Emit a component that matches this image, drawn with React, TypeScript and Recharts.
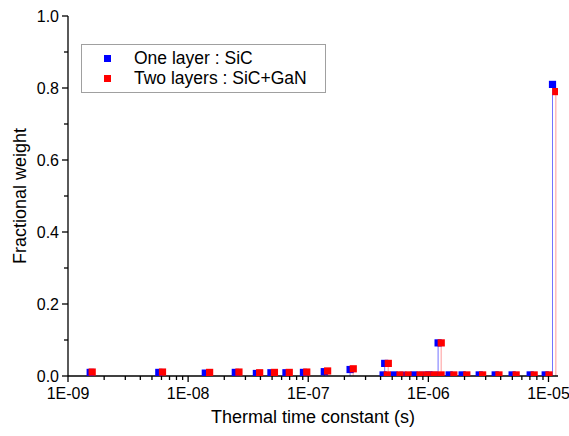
import { ScatterChart, Scatter, XAxis, YAxis, ErrorBar, Legend, Label } from "recharts"

// thermal time constants (s) and fractional weights
const oneLayerTau = [
  1.53e-9, 5.7e-9, 1.39e-8, 2.47e-8, 3.7e-8, 4.89e-8, 6.52e-8, 9.12e-8, 1.36e-7, 2.23e-7,
  4.2e-7, 4.33e-7, 5.18e-7, 6.15e-7, 7.6e-7, 8.86e-7, 1.01e-6, 1.12e-6, 1.205e-6, 1.49e-6,
  1.91e-6, 2.65e-6, 3.6e-6, 4.98e-6, 7.04e-6, 9.39e-6, 1.08e-5,
]
const oneLayerWeight = [
  0.01, 0.01, 0.008, 0.01, 0.007, 0.009, 0.009, 0.01, 0.012, 0.018,
  0.003, 0.035, 0.003, 0.002, 0.003, 0.002, 0.003, 0.002, 0.092, 0.003,
  0.003, 0.003, 0.003, 0.003, 0.003, 0.003, 0.81,
]
const twoLayerTau = [
  1.59e-9, 6.12e-9, 1.51e-8, 2.65e-8, 3.94e-8, 5.23e-8, 6.95e-8, 9.72e-8, 1.45e-7, 2.37e-7,
  4.55e-7, 4.64e-7, 5.81e-7, 6.77e-7, 8.53e-7, 9.75e-7, 1.117e-6, 1.276e-6, 1.28e-6, 1.63e-6,
  2.09e-6, 2.83e-6, 3.87e-6, 5.38e-6, 7.6e-6, 1.01e-5, 1.15e-5,
]
const twoLayerWeight = [
  0.011, 0.011, 0.01, 0.011, 0.009, 0.01, 0.01, 0.011, 0.014, 0.02,
  0.003, 0.035, 0.003, 0.003, 0.003, 0.003, 0.003, 0.003, 0.092, 0.003,
  0.003, 0.003, 0.003, 0.003, 0.003, 0.003, 0.79,
]

const xMajorTicks = [1e-9, 1e-8, 1e-7, 1e-6, 1e-5]
const xMinorMantissas = [2, 3, 4, 5, 6, 7, 8, 9]
const yTicks = [0, 0.1, 0.2, 0.3, 0.4, 0.5, 0.6, 0.7, 0.8, 0.9, 1.0]
const xDomain = [1e-9, 1.2e-5]

const font = "'Liberation Sans', Arial, sans-serif"

const build = (tau: number[], w: number[]) =>
  tau.map((t, i) => ({ tau: t, weight: w[i], drop: [w[i], 0] }))

const oneLayer = build(oneLayerTau, oneLayerWeight)
const twoLayer = build(twoLayerTau, twoLayerWeight)

const xTicks = [
  ...xMajorTicks,
  ...xMajorTicks.flatMap((m) => xMinorMantissas.map((k) => k * m)).filter((v) => v <= xDomain[1]),
].sort((a, b) => a - b)

const isMajor = (v: number) => xMajorTicks.some((m) => Math.abs(v / m - 1) < 1e-6)

const fmtExp = (v: number) => {
  const e = Math.round(Math.log10(v))
  return `1E-${String(-e).padStart(2, "0")}`
}

const XTick = (props: any) => {
  const { x, y, payload } = props
  const major = isMajor(payload.value)
  return (
    <g>
      <line x1={x} x2={x} y1={y} y2={y + (major ? 6 : 4)} stroke="#000" strokeWidth={1.3} />
      {major && (
        <text x={x} y={y + 23} textAnchor="middle" fontSize={16} fontFamily={font} fill="#000">
          {fmtExp(payload.value)}
        </text>
      )}
    </g>
  )
}

const YTick = (props: any) => {
  const { x, y, payload } = props
  const major = Math.round(payload.value * 10) % 2 === 0
  return (
    <g>
      <line x1={x} x2={x - (major ? 6 : 4)} y1={y} y2={y} stroke="#000" strokeWidth={1.3} />
      {major && (
        <text x={x - 9} y={y} dy="0.36em" textAnchor="end" fontSize={16} fontFamily={font} fill="#000">
          {payload.value.toFixed(1)}
        </text>
      )}
    </g>
  )
}

const square = (color: string) => (p: any) =>
  <rect x={p.cx - 3.6} y={p.cy - 3.6} width={7.2} height={7.2} fill={color} />

const renderLegend = (props: any) => (
  <div
    style={{
      border: "1px solid #a0a0a0",
      background: "#fff",
      padding: "3px 0 4px 0",
      fontFamily: font,
      fontSize: 17.5,
      color: "#000",
    }}
  >
    {(props.payload || []).map((e: any) => (
      <div key={e.value} style={{ display: "flex", alignItems: "center", height: 20 }}>
        <span style={{ width: 7, height: 7, background: e.color, marginLeft: 22, marginRight: 23 }} />
        <span>{e.value}</span>
      </div>
    ))}
  </div>
)

export default function App() {
  return (
    <div style={{ width: 569, height: 436, background: "#fff" }}>
      <style>{"body{margin:0}"}</style>
      <ScatterChart width={569} height={436} margin={{ top: 16, right: 11, bottom: 0, left: 8 }}>
        <XAxis
          dataKey="tau"
          type="number"
          scale="log"
          domain={xDomain}
          allowDataOverflow
          ticks={xTicks}
          interval={0}
          tick={<XTick />}
          tickLine={false}
          tickSize={0}
          tickMargin={0}
          height={60}
          axisLine={{ stroke: "#000", strokeWidth: 1.3 }}
        >
          <Label
            content={(p: any) => (
              <text
                x={p.viewBox.x + p.viewBox.width / 2}
                y={p.viewBox.y + 47}
                textAnchor="middle"
                fontSize={18}
                fontFamily={font}
                fill="#000"
              >
                Thermal time constant (s)
              </text>
            )}
          />
        </XAxis>
        <YAxis
          dataKey="weight"
          type="number"
          domain={[0, 1]}
          allowDataOverflow
          ticks={yTicks}
          interval={0}
          tick={<YTick />}
          tickLine={false}
          tickSize={0}
          tickMargin={0}
          width={60}
          axisLine={{ stroke: "#000", strokeWidth: 1.3 }}
        >
          <Label
            content={(p: any) => {
              const cx = p.viewBox.x + 12
              const cy = p.viewBox.y + p.viewBox.height / 2
              return (
                <text
                  x={cx}
                  y={cy}
                  transform={`rotate(-90 ${cx} ${cy})`}
                  textAnchor="middle"
                  dominantBaseline="central"
                  fontSize={18}
                  fontFamily={font}
                  fill="#000"
                >
                  Fractional weight
                </text>
              )
            }}
          />
        </YAxis>
        <Legend
          content={renderLegend}
          layout="vertical"
          verticalAlign="middle"
          align="center"
          wrapperStyle={{ left: 81, top: 44, width: 245 }}
        />
        <Scatter
          name="One layer : SiC"
          data={oneLayer}
          fill="#0000ff"
          shape={square("#0000ff")}
          isAnimationActive={false}
        >
          <ErrorBar dataKey="drop" direction="y" width={0} stroke="#7373ff" strokeWidth={1} isAnimationActive={false} />
        </Scatter>
        <Scatter
          name="Two layers : SiC+GaN"
          data={twoLayer}
          fill="#ff0000"
          shape={square("#ff0000")}
          isAnimationActive={false}
        >
          <ErrorBar dataKey="drop" direction="y" width={0} stroke="#ffbcbc" strokeWidth={1.5} isAnimationActive={false} />
        </Scatter>
      </ScatterChart>
    </div>
  )
}
